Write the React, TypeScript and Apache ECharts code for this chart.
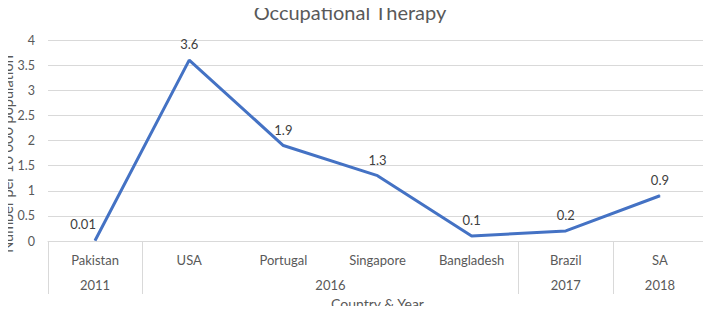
import React, { useEffect, useRef } from "react";
import * as echarts from "echarts";

const countries = ["Pakistan", "USA", "Portugal", "Singapore", "Bangladesh", "Brazil", "SA"];
const values = [0.01, 3.6, 1.9, 1.3, 0.1, 0.2, 0.9];
const years = ["2011", "2016", "2017", "2018"];
const yearSpans = [1, 4, 1, 1]; // number of countries in each year group
const yTicks = [0, 0.5, 1, 1.5, 2, 2.5, 3, 3.5, 4];

const FONT = "Lato, 'Open Sans', sans-serif";
const TXT = "#595959";
const GRIDC = "#d9d9d9";

export default function App() {
  const ref = useRef<HTMLDivElement>(null);
  useEffect(() => {
    if (!ref.current) return;
    const chart = echarts.init(ref.current, undefined, { renderer: "svg" });
    const bounds: number[] = [0];
    const centres: number[] = [];
    let acc = 0;
    yearSpans.forEach((s) => {
      centres.push(acc + s / 2);
      acc += s;
      bounds.push(acc);
    });
    chart.setOption({
      animation: false,
      textStyle: { fontFamily: FONT },
      title: {
        text: "Occupational Therapy",
        left: 350,
        textAlign: "center",
        top: 2,
        padding: 0,
        textStyle: { fontFamily: FONT, fontSize: 20, fontWeight: "normal", color: TXT },
      },
      grid: {
        left: 48,
        right: 4,
        top: 40,
        bottom: 73,
        containLabel: false,
        outerBoundsMode: "none",
      },
      xAxis: [
        {
          type: "category",
          data: countries,
          position: "bottom",
          boundaryGap: true,
          axisLine: { show: true, lineStyle: { color: GRIDC, width: 1 } },
          axisTick: { show: false },
          axisLabel: { color: TXT, fontSize: 13, margin: 12, fontFamily: FONT, interval: 0 },
          splitLine: { show: false },
        },
        {
          type: "value",
          min: 0,
          max: countries.length,
          position: "bottom",
          name: "Country & Year",
          nameLocation: "middle",
          nameGap: 55,
          nameMoveOverlap: false,
          nameTextStyle: { color: TXT, fontSize: 14, fontFamily: FONT },
          axisLine: { show: false },
          axisTick: {
            show: true,
            customValues: bounds,
            length: 53,
            lineStyle: { color: GRIDC, width: 1 },
          },
          axisLabel: {
            show: true,
            customValues: centres,
            color: TXT,
            fontSize: 13,
            margin: 37,
            fontFamily: FONT,
            formatter: (v: number) => {
              const i = centres.findIndex((c) => Math.abs(c - v) < 1e-6);
              return i >= 0 ? years[i] : "";
            },
          },
          splitLine: { show: false },
        },
      ],
      yAxis: {
        type: "value",
        min: yTicks[0],
        max: yTicks[yTicks.length - 1],
        interval: 0.5,
        name: "Number per 10 000 population",
        nameLocation: "middle",
        nameRotate: 90,
        nameGap: 33,
        nameMoveOverlap: false,
        nameTextStyle: { color: TXT, fontSize: 14.5, fontFamily: FONT, padding: [0, 27, 0, 0] },
        axisLine: { show: false },
        axisTick: { show: false },
        axisLabel: { color: TXT, fontSize: 12.5, margin: 13, fontFamily: FONT },
        splitLine: { show: true, lineStyle: { color: GRIDC, width: 1 } },
      },
      series: [
        {
          type: "line",
          xAxisIndex: 0,
          data: values.map((v, i) =>
            i === 0 ? { value: v, label: { offset: [-12, 0] } } : { value: v }
          ),
          showSymbol: true,
          symbol: "circle",
          symbolSize: 1,
          itemStyle: { color: "#4472C4" },
          lineStyle: { color: "#4472C4", width: 3 },
          label: {
            show: true,
            position: "top",
            distance: 9,
            color: "#404040",
            fontSize: 13,
            fontFamily: FONT,
          },
        },
      ],
    });
    return () => chart.dispose();
  }, []);
  return <div ref={ref} style={{ width: 711, height: 314, margin: -8 }} />;
}
